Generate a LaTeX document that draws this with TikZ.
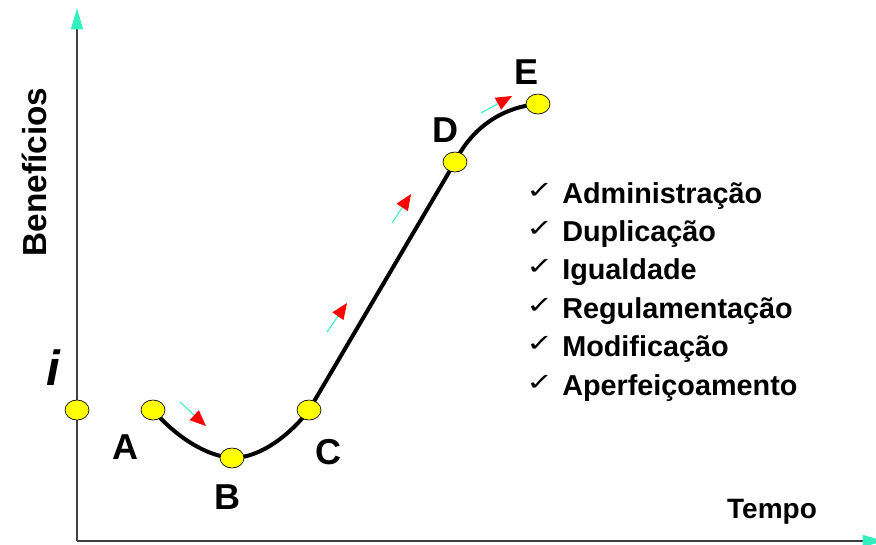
\documentclass[tikz,border=0pt]{standalone}
\usepackage{fontspec}
\setmainfont{Liberation Sans}
\newfontfamily\checkfont{DejaVu Sans}
\usetikzlibrary{arrows.meta,shapes.geometric}
\definecolor{verdeagua}{RGB}{51,240,190}
\definecolor{amarelo}{RGB}{255,255,0}
\begin{document}
\begin{tikzpicture}[x=0.75pt,y=-0.75pt,
	eixo/.style={black!75,line width=1pt,-{Triangle[length=16pt,width=9pt,verdeagua]}},
	ponto/.style={ellipse,draw=black,line width=0.5pt,fill=amarelo,inner sep=0pt,minimum width=18pt,minimum height=15pt},
	letra/.style={font=\bfseries\fontsize{27}{27}\selectfont,inner sep=0pt},
	seta/.style={verdeagua,line width=0.8pt,-{Triangle[length=12pt,width=10pt,red]}},
	lista/.style={anchor=base west,inner sep=0pt,font=\bfseries\fontsize{21.6}{22}\selectfont}]
	\useasboundingbox (0,0) rectangle (876,544);
	\coordinate (origem) at (77,541);
	\coordinate (topo) at (77,8);
	\coordinate (fim) at (884,541);
	\draw[eixo] (origem)--(topo);
	\draw[eixo] (origem)--(fim);
	\node[font=\bfseries\fontsize{25}{25}\selectfont,rotate=90,inner sep=0pt] (beneficios) at (34,172) {Benefícios};
	\node[font=\bfseries\fontsize{21}{21}\selectfont,inner sep=0pt] (tempo) at (772,512) {Tempo};
		%%%%%%%%
	\coordinate (i) at (77,410);
	\coordinate (a) at (153,410);
	\coordinate (b) at (232,458);
	\coordinate (c) at (309,410);
	\coordinate (d) at (455,162);
	\coordinate (e) at (538,104);
	\draw[line width=3pt] (a) .. controls (170,430) and (200,455) .. (b)
		.. controls (260,458) and (290,435) .. (c) -- (d)
		.. controls (468,135) and (495,108) .. (e);
	\foreach \p in {i,a,b,c,d,e}
		\node[ponto] (p\p) at (\p) {};
	\node[font=\bfseries\itshape\fontsize{37}{37}\selectfont,inner sep=0pt] (li) at (53,368) {i};
	\node[letra] (la) at (125,447) {A};
	\node[letra] (lb) at (227,497) {B};
	\node[letra] (lc) at (328,452) {C};
	\node[letra] (ld) at (445,130) {D};
	\node[letra] (le) at (527,72) {E};
		%%%%%%%%
	\coordinate (s1) at (180,402); \coordinate (t1) at (206,426);
	\coordinate (s2) at (327,332); \coordinate (t2) at (347,303);
	\coordinate (s3) at (392,223); \coordinate (t3) at (411,194);
	\coordinate (s4) at (481,113); \coordinate (t4) at (512,96);
	\foreach \k in {1,2,3,4}
		\draw[seta] (s\k)--(t\k);
		%%%%%%%%
	\foreach \txt [count=\k] in {Administração,Duplicação,Igualdade,Regulamentação,Modificação,Aperfeiçoamento}{
		\node[lista,font=\checkfont\fontsize{24}{24}\selectfont] (check\k) at (526,198+38.4*\k-38.4) {\scalebox{1}[0.75]{✓}};
		\node[lista] (item\k) at (562,203+38.4*\k-38.4) {\txt};}
\end{tikzpicture}
\end{document}
